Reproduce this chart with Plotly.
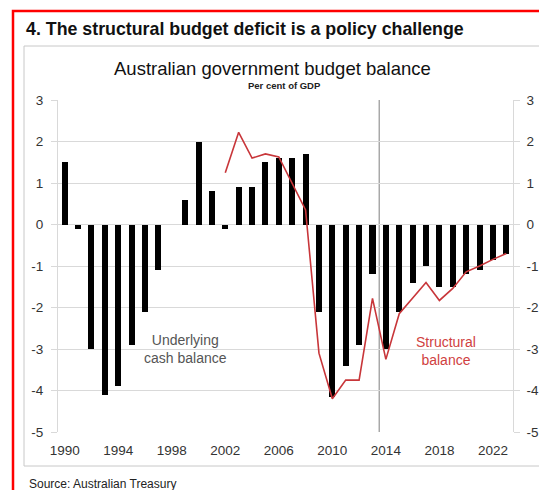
import plotly.graph_objects as go

# ---------------- data ----------------
years = list(range(1990, 2024))
cash_balance = [1.5, -0.1, -3.0, -4.1, -3.9, -2.9, -2.1, -1.1, 0.0, 0.6,
                2.0, 0.8, -0.1, 0.9, 0.9, 1.5, 1.6, 1.6, 1.7, -2.1,
                -4.15, -3.4, -2.9, -1.2, -3.0, -2.1, -1.4, -1.0, -1.5, -1.5,
                -1.2, -1.1, -0.85, -0.7]
struct_years = list(range(2002, 2024))
structural_balance = [1.25, 2.22, 1.6, 1.7, 1.63, 1.0, 0.35, -3.1, -4.2, -3.75,
                      -3.75, -1.78, -3.25, -2.15, -1.77, -1.4, -1.83, -1.54, -1.14, -1.0,
                      -0.84, -0.7]
x_tick_years = [1990, 1994, 1998, 2002, 2006, 2010, 2014, 2018, 2022]
y_ticks = [-5, -4, -3, -2, -1, 0, 1, 2, 3]
forecast_divider = 2013.5

# ---------------- layout helpers ----------------
W, H = 539, 490
L, R, T, B = 58, 513, 100, 432


def px_x(px):
    return (px - L) / (R - L)


def px_y(py):
    return (B - py) / (B - T)


SANS = "Liberation Sans, Arial, sans-serif"
GRID = "#d9d9d9"
RED_LINE = "#c8363a"
TICK_FONT = dict(family=SANS, size=13.5, color="#333333")
NBSP = "\u00a0"

fig = go.Figure()
fig.add_trace(go.Bar(x=years, y=cash_balance, marker_color="black",
                     marker_line_width=0, width=0.45, showlegend=False))
fig.add_trace(go.Scatter(x=struct_years, y=structural_balance, mode="lines",
                         line=dict(color=RED_LINE, width=1.6), yaxis="y2",
                         showlegend=False))

axis_common = dict(range=[-5, 3], tickvals=y_ticks,
                   ticks="outside", ticklen=6, tickcolor=GRID, showline=True,
                   linecolor=GRID, linewidth=1, tickfont=TICK_FONT,
                   zeroline=False, fixedrange=True, automargin=False)

fig.update_layout(
    width=W, height=H,
    margin=dict(l=L, r=W - R, t=T, b=H - B),
    paper_bgcolor="white", plot_bgcolor="white",
    bargap=0,
    xaxis=dict(range=[1989.5, 2023.5], tickvals=x_tick_years,
               ticktext=[str(v) for v in x_tick_years], showgrid=False,
               showline=False, ticks="", zeroline=False, automargin=False,
               tickfont=TICK_FONT, ticklabelstandoff=8),
    yaxis=dict(side="left", showgrid=True, gridcolor=GRID, ticklabelstandoff=5,
               ticktext=[str(v) for v in y_ticks], **axis_common),
    yaxis2=dict(side="right", overlaying="y", showgrid=False,
                ticktext=[NBSP + str(v) for v in y_ticks], **axis_common),
)

shapes = [
    # outer red frame
    dict(type="rect", xref="paper", yref="paper",
         x0=px_x(13), x1=px_x(542), y0=px_y(520), y1=px_y(11),
         line=dict(color="#ff0000", width=2.5), fillcolor="rgba(0,0,0,0)", layer="below"),
    # inner grey chart box
    dict(type="rect", xref="paper", yref="paper",
         x0=px_x(24), x1=px_x(560), y0=px_y(466), y1=px_y(46),
         line=dict(color="#c8c8c8", width=1), fillcolor="rgba(0,0,0,0)", layer="below"),
    # forecast divider
    dict(type="line", xref="x", yref="paper", x0=forecast_divider, x1=forecast_divider,
         y0=0, y1=1, line=dict(color="#7f7f7f", width=1), layer="below"),
]
fig.update_layout(shapes=shapes)

annotations = [
    dict(text="<b>4. The structural budget deficit is a policy challenge</b>",
         xref="paper", yref="paper", x=px_x(24), y=px_y(29), xanchor="left", yanchor="middle",
         showarrow=False, font=dict(family=SANS, size=17.8, color="#111111")),
    dict(text="Australian government budget balance",
         xref="paper", yref="paper", x=px_x(272), y=px_y(69), xanchor="center", yanchor="middle",
         showarrow=False, font=dict(family=SANS, size=18.5, color="#111111")),
    dict(text="<b>Per cent of GDP</b>",
         xref="paper", yref="paper", x=px_x(284), y=px_y(85), xanchor="center", yanchor="middle",
         showarrow=False, font=dict(family=SANS, size=9.5, color="#222222")),
    dict(text="Underlying<br>cash balance", xref="x", yref="y", x=1999, y=-3.0,
         xanchor="center", yanchor="middle", showarrow=False,
         font=dict(family=SANS, size=14, color="#555555")),
    dict(text="Structural<br>balance", xref="x", yref="y", x=2018.5, y=-3.04,
         xanchor="center", yanchor="middle", showarrow=False,
         font=dict(family=SANS, size=14, color="#d0413f")),
    dict(text="Source: Australian Treasury",
         xref="paper", yref="paper", x=px_x(27), y=px_y(484), xanchor="left", yanchor="middle",
         showarrow=False, font=dict(family=SANS, size=12, color="#222222")),
]
fig.update_layout(annotations=annotations)

fig.write_html("out.html")
